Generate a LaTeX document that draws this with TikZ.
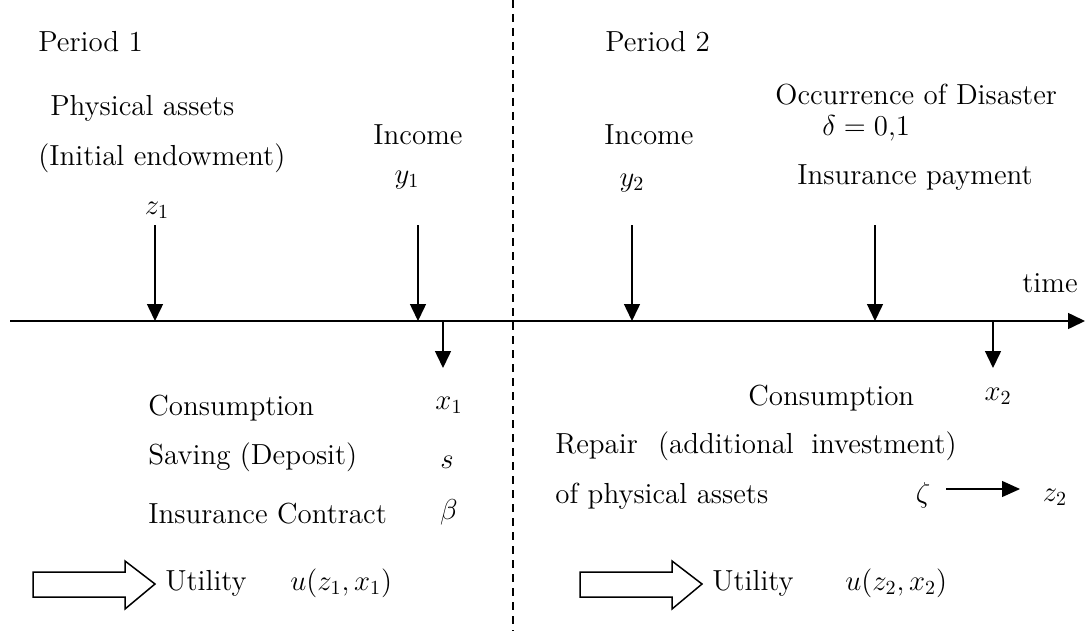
\documentclass[tikz,border=0pt]{standalone}
\usetikzlibrary{arrows.meta}
\begin{document}
\begin{tikzpicture}[x=0.5pt,y=-0.5pt,
  font=\fontsize{14.5}{17}\selectfont,
  lbl/.style={inner sep=0pt, anchor=west},
  mth/.style={inner sep=0pt, anchor=center},
  arr/.style={line width=0.75pt, -{Triangle[length=8.5pt,width=8pt]}},
  blockarrow/.style={draw, line width=0.75pt, fill=white},
  divider/.style={line width=0.75pt, dash pattern=on 4pt off 3pt}]
\useasboundingbox (0,0) rectangle (1085,631);

% divider
\coordinate (dtop) at (513,0);
\coordinate (dbot) at (513,631);
\draw[divider] (dtop) -- (dbot);

% timeline
\coordinate (tl) at (10,321);
\coordinate (tr) at (1085,321);
\draw[arr] (tl) -- (tr);

% timeline points
\coordinate (p1) at (155,321);
\coordinate (p2) at (418,321);
\coordinate (p3) at (632,321);
\coordinate (p4) at (875,321);
\coordinate (q1) at (443,321);
\coordinate (q2) at (993,321);
\coordinate (s1) at (155,225);
\coordinate (s2) at (418,225);
\coordinate (s3) at (632,225);
\coordinate (s4) at (875,225);
\coordinate (e1) at (443,368);
\coordinate (e2) at (993,368);
\draw[arr] (s1) -- (p1);
\draw[arr] (s2) -- (p2);
\draw[arr] (s3) -- (p3);
\draw[arr] (s4) -- (p4);
\draw[arr] (q1) -- (e1);
\draw[arr] (q2) -- (e2);

% Period 1 texts
\node[lbl] (per1) at (38,42) {Period 1};
\node[lbl] (phys) at (50,108) {Physical assets};
\node[lbl] (init) at (38,158) {(Initial endowment)};
\node[mth] (z1) at (157,210) {$z_1$};
\node[mth] (inc1) at (418,135) {Income};
\node[mth] (y1) at (407,180) {$y_1$};
\node[mth] (x1) at (449,405) {$x_1$};
\node[lbl] (cons1) at (148,408) {Consumption};
\node[lbl] (sav) at (148,457) {Saving (Deposit)};
\node[mth] (s) at (447,462) {$s$};
\node[lbl] (ins) at (148,514) {Insurance Contract};
\node[mth] (beta) at (449,512) {$\beta$};

% Period 2 texts
\node[lbl] (per2) at (605,42) {Period 2};
\node[lbl] (inc2) at (604,135) {Income};
\node[mth] (y2) at (632,183) {$y_2$};
\node[lbl] (occ) at (775,95) {Occurrence of Disaster};
\node[lbl] (delta) at (822,128) {$\delta=0{,}1$};
\node[lbl] (pay) at (797,178) {Insurance payment};
\node[inner sep=0pt, anchor=east] (time) at (1078,283) {time};
\node[lbl] (cons2) at (748,398) {Consumption};
\node[mth] (x2) at (998,396) {$x_2$};
\node[lbl] (rep) at (555,446) {Repair\hspace{0.7em}(additional\hspace{0.6em}investment)};
\node[lbl] (ofp) at (555,496) {of physical assets};
\node[mth] (zeta) at (923,495) {$\zeta$};
\node[mth] (z2) at (1055,497) {$z_2$};
\coordinate (za) at (946,489);
\coordinate (zb) at (1020,489);
\draw[line width=0.6pt, -{Triangle[length=9pt,width=8pt]}] (za) -- (zb);

% block arrows
\draw[blockarrow] (33,572) -- (125,572) -- (125,561) -- (155,584) -- (125,609) -- (125,597) -- (33,597) -- cycle;
\node[lbl] (ut1) at (165,583) {Utility};
\node[lbl] (u1) at (290,583) {$u(z_1,x_1)$};

\draw[blockarrow] (580,572) -- (672,572) -- (672,561) -- (702,584) -- (672,609) -- (672,597) -- (580,597) -- cycle;
\node[lbl] (ut2) at (712,583) {Utility};
\node[lbl] (u2) at (845,583) {$u(z_2,x_2)$};
\end{tikzpicture}
\end{document}
